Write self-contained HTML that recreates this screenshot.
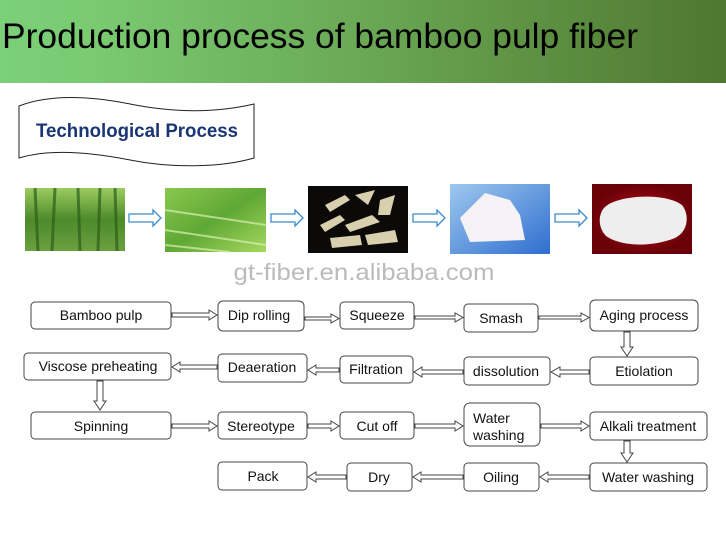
<!DOCTYPE html>
<html><head><meta charset="utf-8"><style>
html,body{margin:0;padding:0;width:726px;height:546px;overflow:hidden;background:#fff}
svg{display:block}
</style></head><body>
<svg width="726" height="546" viewBox="0 0 726 546" xmlns="http://www.w3.org/2000/svg" font-family="Liberation Sans, sans-serif">
<defs>
<linearGradient id="hg" x1="0" x2="1" y1="0" y2="0">
<stop offset="0" stop-color="#7bd078"/><stop offset="0.12" stop-color="#7acb72"/><stop offset="0.5" stop-color="#6aa855"/><stop offset="1" stop-color="#4f772e"/>
</linearGradient>
<linearGradient id="p1" x1="0" x2="0" y1="0" y2="1"><stop offset="0" stop-color="#9ccc60"/><stop offset="0.5" stop-color="#4c8a2a"/><stop offset="1" stop-color="#6aa040"/></linearGradient>
<linearGradient id="p2" x1="0" x2="1" y1="0" y2="1"><stop offset="0" stop-color="#8ac850"/><stop offset="0.5" stop-color="#5fa834"/><stop offset="1" stop-color="#a6d860"/></linearGradient>
<linearGradient id="p4" x1="0" x2="1" y1="0" y2="1"><stop offset="0" stop-color="#9ec8ee"/><stop offset="1" stop-color="#2f6ed0"/></linearGradient>
<radialGradient id="p5"><stop offset="0" stop-color="#c0101a"/><stop offset="1" stop-color="#6a0008"/></radialGradient>
</defs>
<rect x="0" y="0" width="726" height="83" fill="url(#hg)"/>
<text x="2" y="48" font-size="35" fill="#000" textLength="636" lengthAdjust="spacingAndGlyphs">Production process of bamboo pulp fiber</text>

<path d="M19,106 C45,96 80,94 130,104 C180,114 220,112 254,104 L254,158 C220,168 170,168 130,160 C80,150 45,150 19,158 Z" fill="#fff" stroke="#222" stroke-width="1"/>
<text x="36" y="137" font-size="19" font-weight="bold" fill="#1a3575" textLength="202" lengthAdjust="spacingAndGlyphs">Technological Process</text>

<rect x="25" y="188" width="100" height="63" fill="url(#p1)"/>
<g stroke="#2d5e18" stroke-width="3" opacity="0.7"><line x1="35" y1="188" x2="38" y2="251"/><line x1="55" y1="188" x2="52" y2="251"/><line x1="78" y1="188" x2="80" y2="251"/><line x1="100" y1="188" x2="98" y2="251"/><line x1="115" y1="188" x2="117" y2="251"/></g>
<rect x="165" y="188" width="101" height="64" fill="url(#p2)"/>
<g stroke="#d8f0b0" stroke-width="2" opacity="0.7"><line x1="165" y1="210" x2="266" y2="225"/><line x1="165" y1="230" x2="266" y2="245"/><line x1="165" y1="245" x2="230" y2="252"/></g>
<rect x="308" y="186" width="100" height="67" fill="#0c0a08"/>
<g fill="#d8cfae"><polygon points="325,205 345,195 350,200 330,212"/><polygon points="355,195 375,190 368,205"/><polygon points="380,200 395,195 390,215 378,215"/><polygon points="320,225 340,215 345,220 325,232"/><polygon points="345,225 372,215 380,222 350,232"/><polygon points="330,238 360,235 362,245 332,248"/><polygon points="365,235 395,230 398,242 368,245"/></g>
<rect x="450" y="184" width="100" height="70" fill="url(#p4)"/>
<polygon points="460,218 485,193 510,200 520,215 525,240 470,242" fill="#f4f2f4"/>
<rect x="592" y="184" width="100" height="70" fill="url(#p5)"/>
<path d="M604,208 C615,195 665,192 682,205 C690,215 688,232 675,238 C650,248 620,246 606,236 C598,228 598,215 604,208 Z" fill="#eeeeee"/>

<g fill="#fff" stroke="#3b8ccc" stroke-width="1.3">
<path d="M129,214 H153 V210 L161,218 L153,226 V222 H129 Z"/>
<path d="M271,214 H295 V210 L303,218 L295,226 V222 H271 Z"/>
<path d="M413,214 H437 V210 L445,218 L437,226 V222 H413 Z"/>
<path d="M555,214 H579 V210 L587,218 L579,226 V222 H555 Z"/>
</g>
<text x="364" y="280" font-size="23" fill="#bbbbbb" text-anchor="middle" textLength="261" lengthAdjust="spacingAndGlyphs">gt-fiber.en.alibaba.com</text>

<g fill="#fff" stroke="#444" stroke-width="1">
<rect x="31" y="302" width="140" height="27" rx="4"/>
<rect x="218" y="301" width="86" height="30" rx="5"/>
<rect x="340" y="302" width="74" height="27" rx="4"/>
<rect x="464" y="304" width="74" height="28" rx="4"/>
<rect x="590" y="300" width="108" height="31" rx="5"/>
<rect x="24" y="353" width="147" height="27" rx="4"/>
<rect x="218" y="354" width="89" height="28" rx="4"/>
<rect x="340" y="356" width="73" height="27" rx="4"/>
<rect x="464" y="357" width="86" height="28" rx="4"/>
<rect x="590" y="357" width="108" height="28" rx="4"/>
<rect x="31" y="412" width="140" height="27" rx="4"/>
<rect x="218" y="412" width="89" height="27" rx="4"/>
<rect x="340" y="412" width="74" height="27" rx="4"/>
<rect x="464" y="403" width="76" height="43" rx="6"/>
<rect x="590" y="412" width="117" height="28" rx="4"/>
<rect x="218" y="462" width="89" height="28" rx="4"/>
<rect x="347" y="463" width="65" height="28" rx="4"/>
<rect x="464" y="463" width="75" height="28" rx="4"/>
<rect x="590" y="463" width="117" height="28" rx="4"/>
</g>
<g font-size="14" fill="#111" text-anchor="middle">
<text x="101" y="320">Bamboo pulp</text>
<text x="259" y="320">Dip rolling</text>
<text x="377" y="320">Squeeze</text>
<text x="501" y="323">Smash</text>
<text x="644" y="320">Aging process</text>
<text x="98" y="371">Viscose preheating</text>
<text x="262" y="372">Deaeration</text>
<text x="376" y="374">Filtration</text>
<text x="506" y="376">dissolution</text>
<text x="644" y="376">Etiolation</text>
<text x="101" y="431">Spinning</text>
<text x="261" y="431">Stereotype</text>
<text x="377" y="431">Cut off</text>
<text x="473" y="423" text-anchor="start">Water</text>
<text x="473" y="440" text-anchor="start">washing</text>
<text x="648" y="431">Alkali treatment</text>
<text x="263" y="481">Pack</text>
<text x="379" y="482">Dry</text>
<text x="501" y="482">Oiling</text>
<text x="648" y="482">Water washing</text>
</g>
<g fill="#fff" stroke="#444" stroke-width="1">
<path d="M172,313 H209 V310 L217,315 L209,320 V317 H172 Z"/>
<path d="M305,317 H331 V314 L339,318.5 L331,323 V320 H305 Z"/>
<path d="M415,316 H455 V313 L463,317.5 L455,322 V319 H415 Z"/>
<path d="M539,316 H581 V313 L589,317.5 L581,322 V319 H539 Z"/>
<path d="M172,424 H209 V421 L217,426 L209,431 V428 H172 Z"/>
<path d="M308,424 H331 V421 L339,426 L331,431 V428 H308 Z"/>
<path d="M415,424 H455 V421 L463,426 L455,431 V428 H415 Z"/>
<path d="M541,424 H581 V421 L589,426 L581,431 V428 H541 Z"/>
<path d="M217,365 H180 V362 L172,367 L180,372 V369 H217 Z"/>
<path d="M339,368 H316 V365 L308,370 L316,375 V372 H339 Z"/>
<path d="M463,370 H422 V367 L414,372 L422,377 V374 H463 Z"/>
<path d="M589,370 H560 V367 L551,372 L560,377 V374 H589 Z"/>
<path d="M346,475 H316 V472 L308,477 L316,482 V479 H346 Z"/>
<path d="M463,475 H421 V472 L413,477 L421,482 V479 H463 Z"/>
<path d="M589,475 H548 V472 L540,477 L548,482 V479 H589 Z"/>
<path d="M97,381 V401 H94 L100,410 L106,401 H103 V381 Z"/>
<path d="M624,332 V347 H621 L627,356 L633,347 H630 V332 Z"/>
<path d="M624,441 V453 H621 L627,462 L633,453 H630 V441 Z"/>
</g>
</svg>
</body></html>
